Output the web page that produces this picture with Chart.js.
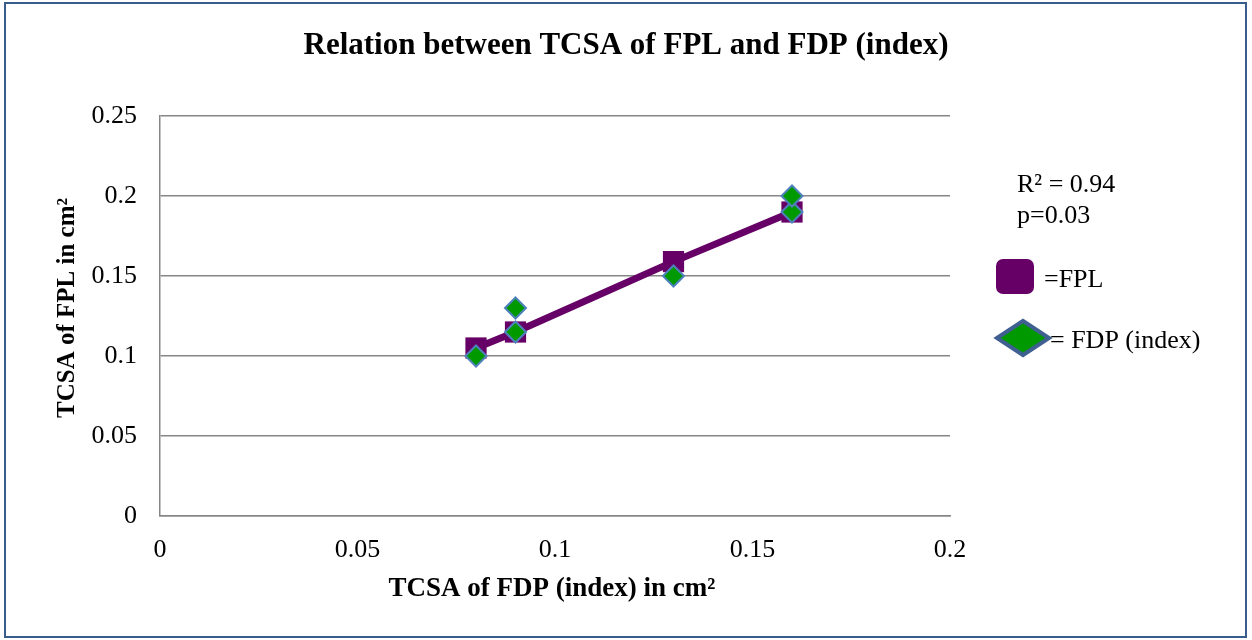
<!DOCTYPE html>
<html lang="en">
<head>
  <meta charset="UTF-8">
  <title>Relation between TCSA of FPL and FDP (index)</title>
  <script src="https://cdn.jsdelivr.net/npm/chart.js"></script>
  <style>
    html, body { margin: 0; padding: 0; background: #fff; }
    #wrap { position: relative; width: 1252px; height: 640px; }
  </style>
</head>
<body>
  <div id="wrap">
    <canvas id="tcsaChart" width="1252" height="640"></canvas>
  </div>
  <script>
    // data
    const fdpX = [0.08, 0.09, 0.13, 0.16];       // TCSA of FDP (index), cm²
    const fplY = [0.105, 0.115, 0.159, 0.19];    // FPL (square markers + line)
    const fdpPointsX = [0.08, 0.09, 0.09, 0.13, 0.16, 0.16];
    const fdpPointsY = [0.10, 0.115, 0.13, 0.15, 0.19, 0.20];
    const xTicks = [0, 0.05, 0.1, 0.15, 0.2];
    const yTicks = [0, 0.05, 0.1, 0.15, 0.2, 0.25];

    const chartTitle = 'Relation between TCSA of FPL and FDP (index)';
    const xTitle = 'TCSA of FDP (index) in cm²';
    const yTitle = 'TCSA of FPL in cm²';
    const statLines = ['R² = 0.94', 'p=0.03'];
    const legendLabels = ['=FPL', '= FDP (index)'];

    const serif = '"Liberation Serif", "Times New Roman", serif';

    const fplData = fdpX.map((x, i) => ({ x: x, y: fplY[i] }));
    const fdpData = fdpPointsX.map((x, i) => ({ x: x, y: fdpPointsY[i] }));

    // frame, title, axis titles and the side legend
    const decorations = {
      id: 'decorations',
      beforeDraw(chart) {
        const ctx = chart.ctx;
        ctx.save();
        ctx.fillStyle = '#ffffff';
        ctx.fillRect(0, 0, chart.width, chart.height);
        ctx.restore();
      },
      afterDraw(chart) {
        const ctx = chart.ctx;
        const area = chart.chartArea;
        ctx.save();

        // outer frame
        ctx.strokeStyle = '#385d8a';
        ctx.lineWidth = 2;
        ctx.strokeRect(5, 3, 1241, 634);

        ctx.fillStyle = '#000';
        ctx.textAlign = 'center';
        ctx.textBaseline = 'alphabetic';
        ctx.font = 'bold 31px ' + serif;
        ctx.fillText(chartTitle, 626, 54);

        ctx.font = 'bold 27px ' + serif;
        ctx.fillText(xTitle, (area.left + area.right) / 2 - 3, 596);

        ctx.font = 'bold 25px ' + serif;
        ctx.save();
        ctx.translate(74, 308);
        ctx.rotate(-Math.PI / 2);
        ctx.fillText(yTitle, 0, 0);
        ctx.restore();

        // stats text
        ctx.textAlign = 'left';
        ctx.font = '26px ' + serif;
        ctx.fillText(statLines[0], 1017, 192);
        ctx.fillText(statLines[1], 1017, 223);

        // legend marker: FPL rounded square
        ctx.fillStyle = '#660066';
        ctx.beginPath();
        ctx.roundRect(996, 259, 38, 35, 7);
        ctx.fill();
        ctx.fillStyle = '#000';
        ctx.fillText(legendLabels[0], 1044, 287);

        // legend marker: FDP diamond
        ctx.beginPath();
        ctx.moveTo(997, 338);
        ctx.lineTo(1023, 321);
        ctx.lineTo(1049, 338);
        ctx.lineTo(1023, 355);
        ctx.closePath();
        ctx.fillStyle = '#009900';
        ctx.fill();
        ctx.strokeStyle = '#3f6090';
        ctx.lineWidth = 4;
        ctx.stroke();
        ctx.fillStyle = '#000';
        ctx.fillText(legendLabels[1], 1050, 348);

        ctx.restore();
      }
    };

    const ctx = document.getElementById('tcsaChart').getContext('2d');
    new Chart(ctx, {
      type: 'scatter',
      data: {
        datasets: [
          {
            label: 'FDP (index)',
            data: fdpData,
            order: 0,
            pointStyle: 'rectRot',
            pointRadius: 10.5,
            pointHoverRadius: 10.5,
            backgroundColor: '#009900',
            borderColor: '#4f81bd',
            borderWidth: 2,
            showLine: false
          },
          {
            label: 'FPL',
            data: fplData,
            order: 1,
            pointStyle: 'rect',
            pointRadius: 15,
            pointHoverRadius: 15,
            pointBackgroundColor: '#660066',
            pointBorderColor: '#660066',
            pointBorderWidth: 0,
            borderColor: '#660066',
            borderWidth: 7,
            showLine: true,
            tension: 0
          }
        ]
      },
      options: {
        responsive: false,
        animation: false,
        events: [],
        layout: { padding: { left: 0, right: 302, top: 116, bottom: 0 } },
        plugins: {
          legend: { display: false },
          title: { display: false },
          tooltip: { enabled: false }
        },
        scales: {
          x: {
            type: 'linear',
            min: 0,
            max: 0.2,
            afterFit(scale) { scale.height = 124; },
            afterBuildTicks(scale) { scale.ticks = xTicks.map(v => ({ value: v })); },
            grid: { display: false, drawTicks: false },
            border: { display: true, color: '#868686', width: 1.5 },
            ticks: {
              padding: 19,
              color: '#000',
              font: { family: serif, size: 26 },
              callback: v => String(v)
            }
          },
          y: {
            type: 'linear',
            min: 0,
            max: 0.25,
            afterFit(scale) { scale.width = 160; },
            afterBuildTicks(scale) { scale.ticks = yTicks.map(v => ({ value: v })); },
            grid: { color: '#868686', lineWidth: 1.5, drawTicks: false },
            border: { display: true, color: '#868686', width: 1.5 },
            ticks: {
              padding: 23,
              color: '#000',
              font: { family: serif, size: 26 },
              callback: v => String(v)
            }
          }
        }
      },
      plugins: [decorations]
    });
  </script>
</body>
</html>
